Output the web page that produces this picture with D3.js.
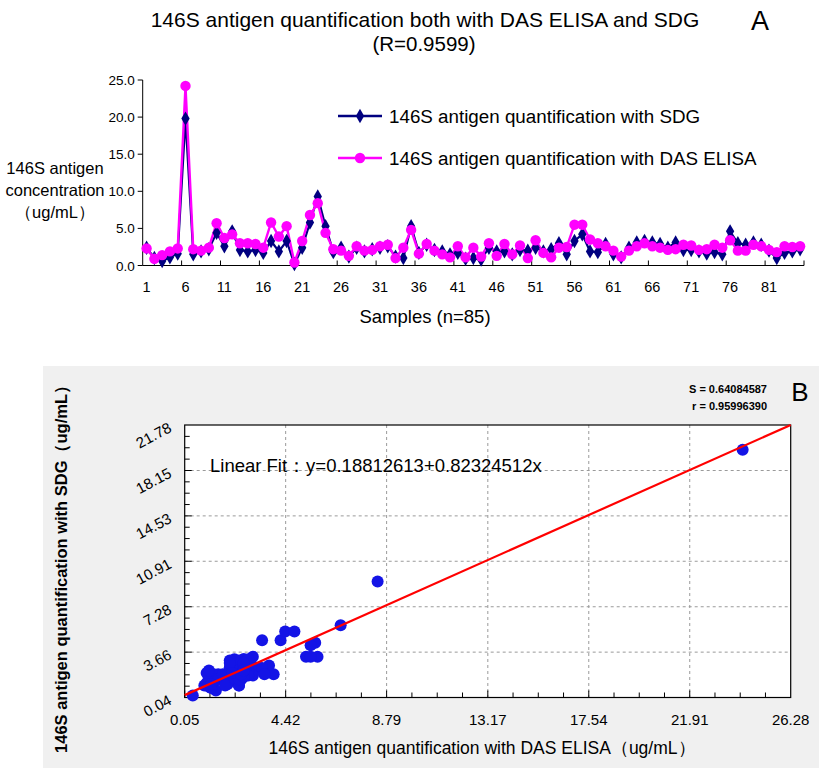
<!DOCTYPE html>
<html><head><meta charset="utf-8">
<script src="https://cdn.jsdelivr.net/npm/d3@7"></script>
<style>
body{margin:0;background:#fff;}
svg{display:block;font-family:"Liberation Sans",Arial,sans-serif;}
</style></head>
<body><svg id="c" width="819" height="768"></svg>
<script>
// ---- Data ----
const samples = d3.range(1, 86);
const sdg = [2.4,1.0,0.6,1.1,1.6,19.8,1.5,1.9,2.2,4.4,
  2.6,4.6,2.1,1.9,2.1,1.7,3.3,1.9,3.3,0.2,
  2.4,5.8,9.3,5.3,1.8,2.4,1.2,2.4,1.9,2.2,
  2.4,2.6,1.2,1.0,5.3,1.7,2.8,2.1,1.9,1.5,
  1.7,0.9,1.0,0.8,2.4,1.9,1.9,1.5,2.1,2.0,
  2.4,1.9,2.2,3.0,1.5,3.3,4.2,1.9,1.8,2.9,
  1.5,1.1,2.4,3.1,3.3,3.1,2.9,2.4,3.1,2.1,
  2.1,1.9,1.6,1.8,1.5,4.6,3.0,2.8,3.1,2.8,
  2.0,1.0,1.7,1.9,2.2];
const elisa = [2.3,0.9,1.4,1.9,2.3,24.2,2.2,2.0,2.4,5.7,
  3.7,4.2,3.0,3.0,2.9,2.4,5.8,3.9,5.3,0.4,
  3.3,6.8,8.4,4.4,2.2,2.0,1.3,2.6,2.0,2.1,
  2.6,2.8,1.0,2.4,4.8,1.6,2.9,2.0,1.5,1.1,
  2.6,1.1,2.4,1.2,3.0,1.3,2.9,1.5,2.7,1.0,
  3.4,1.7,1.1,2.4,2.5,5.5,5.5,3.5,3.0,2.6,
  2.0,1.2,2.0,2.6,3.0,2.6,2.4,2.1,2.2,2.8,
  2.7,2.1,2.2,2.8,2.4,3.4,2.0,2.0,2.8,2.6,
  2.1,1.8,2.6,2.5,2.6];
const yTicksA = [0, 5, 10, 15, 20, 25];
const xLabelsA = [1,6,11,16,21,26,31,36,41,46,51,56,61,66,71,76,81];
const xTicksB = [0.05, 4.42, 8.79, 13.17, 17.54, 21.91, 26.28];
const yTicksB = [0.04, 3.66, 7.28, 10.91, 14.53, 18.15, 21.78];
const fitIntercept = 0.18812613, fitSlope = 0.82324512;
const statS = "0.64084587", statR = "0.95996390";

const svg = d3.select("#c");

// ================= Panel A =================
const A = {l:142.7, r:804, t:80, b:265.5};
const xA = d3.scaleBand().domain(samples).range([A.l, A.r]).padding(0);
const yA = d3.scaleLinear().domain([0, 25]).range([A.b, A.t]);
const cx = d => xA(d) + xA.bandwidth()/2;

svg.append("text").attr("x", 425).attr("y", 27).attr("text-anchor","middle")
  .attr("font-size", 21).text("146S antigen quantification both with DAS ELISA and SDG");
svg.append("text").attr("x", 424).attr("y", 51).attr("text-anchor","middle")
  .attr("font-size", 20.5).text("(R=0.9599)");
svg.append("text").attr("x", 760).attr("y", 30).attr("text-anchor","middle")
  .attr("font-size", 27).text("A");

const gA = svg.append("g");
gA.append("line").attr("x1",A.l).attr("x2",A.l).attr("y1",yA(25)).attr("y2",A.b).attr("stroke","#000").attr("stroke-width",1);
gA.append("line").attr("x1",A.l).attr("x2",A.r).attr("y1",A.b).attr("y2",A.b).attr("stroke","#000").attr("stroke-width",1);
yTicksA.forEach(v=>{
  gA.append("line").attr("x1",A.l-5).attr("x2",A.l).attr("y1",yA(v)).attr("y2",yA(v)).attr("stroke","#000");
  gA.append("text").attr("x",A.l-8).attr("y",yA(v)+5).attr("text-anchor","end")
    .attr("font-size",13.5).text(v.toFixed(1));
});
d3.range(5, 86, 5).forEach(k=>{
  const x = xA(k) + xA.bandwidth();
  gA.append("line").attr("x1",x).attr("x2",x).attr("y1",A.b-5).attr("y2",A.b).attr("stroke","#000");
});
xLabelsA.forEach(k=>{
  gA.append("text").attr("x",cx(k)).attr("y",A.b+26).attr("text-anchor","middle")
    .attr("font-size",14.5).text(k);
});
svg.append("text").attr("x",425).attr("y",323).attr("text-anchor","middle")
  .attr("font-size",18.5).text("Samples (n=85)");
const yl = svg.append("text").attr("text-anchor","middle").attr("font-size",16.5);
[["146S antigen",174],["concentration",196],["（ug/mL）",218]].forEach(([t,y])=>{
  yl.append("tspan").attr("x",55).attr("y",y).text(t);
});

const navy = "#000080", mag = "#ff00ff";
const lineA = (arr) => d3.line().x((d,i)=>cx(samples[i])).y(d=>yA(d))(arr);
gA.append("path").attr("d", lineA(sdg)).attr("fill","none").attr("stroke",navy).attr("stroke-width",2.2);
gA.append("path").attr("d", lineA(elisa)).attr("fill","none").attr("stroke",mag).attr("stroke-width",2.4);
const diamond = d3.symbol().type(d3.symbolDiamond).size(60);
gA.selectAll(".dm").data(sdg).enter().append("path")
  .attr("transform",(d,i)=>`translate(${cx(samples[i])},${yA(d)})`)
  .attr("d", diamond()).attr("fill",navy);
gA.selectAll(".cm").data(elisa).enter().append("circle")
  .attr("cx",(d,i)=>cx(samples[i])).attr("cy",d=>yA(d)).attr("r",5.2).attr("fill",mag);

// legend
const lg = svg.append("g");
lg.append("line").attr("x1",338).attr("x2",382).attr("y1",116).attr("y2",116).attr("stroke",navy).attr("stroke-width",2.5);
lg.append("path").attr("transform","translate(360,116)").attr("d",diamond()).attr("fill",navy);
lg.append("text").attr("x",389).attr("y",122.5).attr("font-size",18.8).text("146S antigen quantification with SDG");
lg.append("line").attr("x1",338).attr("x2",382).attr("y1",158).attr("y2",158).attr("stroke",mag).attr("stroke-width",2.5);
lg.append("circle").attr("cx",360).attr("cy",158).attr("r",5.2).attr("fill",mag);
lg.append("text").attr("x",389).attr("y",164.5).attr("font-size",18.8).text("146S antigen quantification with DAS ELISA");

// ================= Panel B =================
svg.append("rect").attr("x",43).attr("y",366).attr("width",776).attr("height",402).attr("fill","#f0f0f0");
const B = {l:184.7, r:790.7, t:425, b:697.5};
const xB = d3.scaleLinear().domain([xTicksB[0], xTicksB[xTicksB.length-1]]).range([B.l, B.r]);
const yB = d3.scaleLinear().domain([yTicksB[0], yTicksB[yTicksB.length-1]]).range([B.b, B.t]);
const gB = svg.append("g");
gB.append("rect").attr("x",B.l).attr("y",B.t).attr("width",B.r-B.l).attr("height",B.b-B.t).attr("fill","#fff");
xTicksB.slice(1,-1).forEach(v=>{
  gB.append("line").attr("x1",xB(v)).attr("x2",xB(v)).attr("y1",B.t).attr("y2",B.b)
    .attr("stroke","#9a9a9a").attr("stroke-dasharray","3,3");
});
yTicksB.slice(1,-1).forEach(v=>{
  gB.append("line").attr("y1",yB(v)).attr("y2",yB(v)).attr("x1",B.l).attr("x2",B.r)
    .attr("stroke","#9a9a9a").attr("stroke-dasharray","3,3");
});
for(let i=0;i<xTicksB.length-1;i++){
  for(let j=0;j<4;j++){
    const v = xTicksB[i] + (xTicksB[i+1]-xTicksB[i])*j/4;
    const len = j===0?7:5;
    gB.append("line").attr("x1",xB(v)).attr("x2",xB(v)).attr("y1",B.b).attr("y2",B.b-len).attr("stroke","#000");
  }
}
for(let i=0;i<yTicksB.length-1;i++){
  for(let j=0;j<4;j++){
    const v = yTicksB[i] + (yTicksB[i+1]-yTicksB[i])*j/4;
    const len = j===0?7:5;
    gB.append("line").attr("y1",yB(v)).attr("y2",yB(v)).attr("x1",B.l).attr("x2",B.l+len).attr("stroke","#000");
  }
}
gB.append("rect").attr("x",B.l).attr("y",B.t).attr("width",B.r-B.l).attr("height",B.b-B.t)
  .attr("fill","none").attr("stroke","#000").attr("stroke-width",1.2);
xTicksB.forEach(v=>{
  gB.append("text").attr("x",xB(v)).attr("y",B.b+27).attr("text-anchor","middle")
    .attr("font-size",15).text(v.toFixed(2));
});
yTicksB.forEach(v=>{
  gB.append("text").attr("transform",`translate(${B.l-12},${yB(v)+6}) rotate(-28)`)
    .attr("text-anchor","end").attr("font-size",15).text(v.toFixed(2));
});
gB.selectAll(".sp").data(elisa).enter().append("circle")
  .attr("cx",d=>xB(d)).attr("cy",(d,i)=>yB(sdg[i])).attr("r",6).attr("fill","#1414e6");
const fx = xB.domain();
gB.append("line").attr("x1",xB(fx[0])).attr("y1",yB(fitIntercept+fitSlope*fx[0]))
  .attr("x2",xB(fx[1])).attr("y2",yB(Math.min(yTicksB[6], fitIntercept+fitSlope*fx[1])))
  .attr("stroke","#ff0000").attr("stroke-width",2.2);
svg.append("text").attr("x",210).attr("y",472).attr("font-size",18.5)
  .text("Linear Fit：y=0.18812613+0.82324512x");
svg.append("text").attr("x",767).attr("y",393).attr("text-anchor","end").attr("font-size",11)
  .attr("font-weight","bold").text("S = " + statS);
svg.append("text").attr("x",767).attr("y",410).attr("text-anchor","end").attr("font-size",11)
  .attr("font-weight","bold").text("r = " + statR);
svg.append("text").attr("x",800).attr("y",401).attr("text-anchor","middle").attr("font-size",26).text("B");
svg.append("text").attr("x",482).attr("y",754).attr("text-anchor","middle").attr("font-size",17.5)
  .text("146S antigen quantification with DAS ELISA（ug/mL）");
svg.append("text").attr("transform","translate(67,565) rotate(-90)").attr("text-anchor","middle")
  .attr("font-size",16.5).attr("font-weight","bold").text("146S antigen quantification with  SDG（ug/mL）");
</script></body></html>
